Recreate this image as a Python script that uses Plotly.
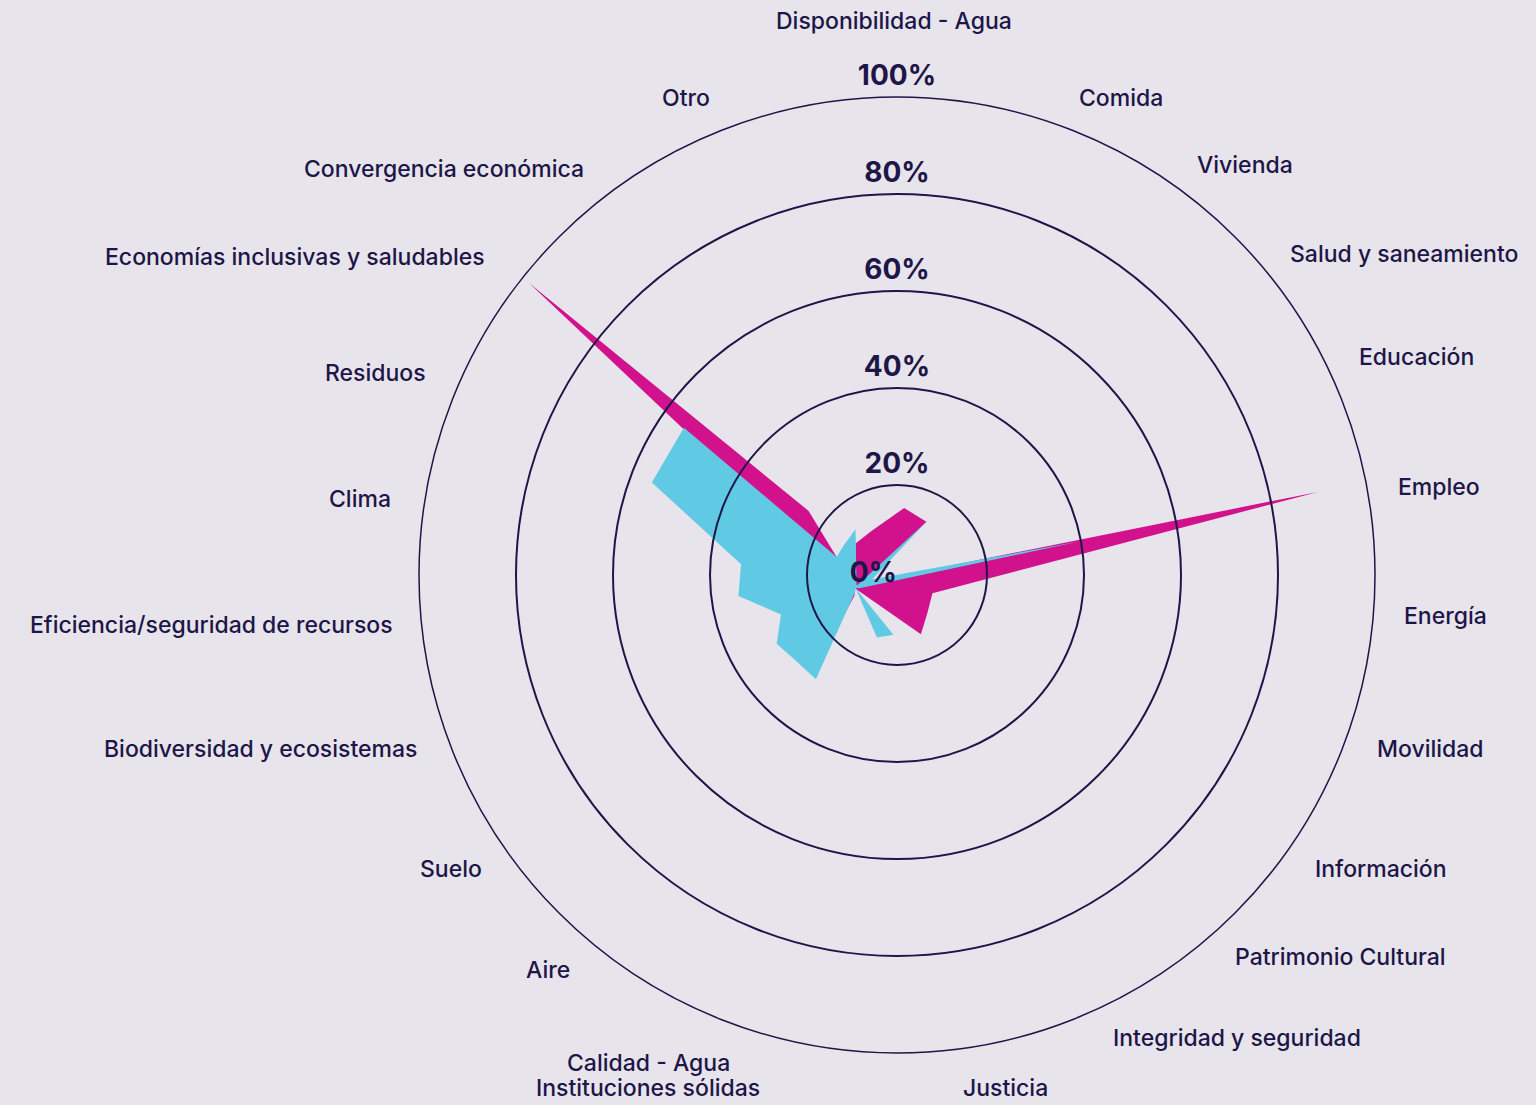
import plotly.graph_objects as go

# ---------------- data ----------------
categories = [
    "Disponibilidad - Agua", "Comida", "Vivienda", "Salud y saneamiento",
    "Educación", "Empleo", "Energía", "Movilidad", "Información",
    "Patrimonio Cultural", "Integridad y seguridad", "Justicia",
    "Instituciones sólidas", "Calidad - Agua", "Aire", "Suelo",
    "Biodiversidad y ecosistemas", "Eficiencia/seguridad de recursos",
    "Clima", "Residuos", "Economías inclusivas y saludables",
    "Convergencia económica", "Otro",
]

magenta_values = [9.2, 12.2, 19.3, 20.0, 2.5, 97.4, 15.9, 15.7, 16.5, 0.4,
                  0.0, 0.0, 1.6, 6.6, 0.0, 0.0, 0.0, 0.0, 0.0, 2.1,
                  92.1, 18.6, 0.0]

cyan_values = [12.1, 0.8, 0.6, 20.0, 3.9, 47.3, 0.8, 0.0, 0.0, 12.4,
               11.1, 0.0, 1.0, 20.5, 19.4, 19.9, 16.3, 24.2, 24.1, 47.3,
               48.4, 7.5, 9.1]

ring_values = [20, 40, 60, 80, 100]
ring_labels = ["20%", "40%", "60%", "80%", "100%"]
zero_label = "0%"

# ---------------- style / layout ----------------
W, H = 1536, 1105
BG = "#E7E5EB"
NAVY = "#1E1548"
MAGENTA = "#D2118C"
CYAN = "#60CAE4"
FONT = "Inter"
RING_R0 = 1.443  # inner start of the ring scale

# category label placement (pixel anchor points, anchor side)
label_pos = [
    (894, 21, "center"), (1077, 98, "left"), (1195, 165, "left"),
    (1288, 254, "left"), (1357, 357, "left"), (1396, 487, "left"),
    (1402, 616, "left"), (1375, 749, "left"), (1313, 869, "left"),
    (1233, 957, "left"), (1111, 1038, "left"), (1005, 1088, "center"),
    (648, 1088, "center"), (648, 1063, "center"), (572, 970, "right"),
    (484, 869, "right"), (419, 749, "right"), (395, 625, "right"),
    (393, 499, "right"), (428, 373, "right"), (487, 257, "right"),
    (586, 169, "right"), (712, 98, "right"),
]


def dom(cx, cy, r):
    return dict(x=[(cx - r) / W, (cx + r) / W],
                y=[(H - cy - r) / H, (H - cy + r) / H])


fig = go.Figure()

theta_closed = categories + categories[:1]
fig.add_trace(go.Scatterpolar(
    r=magenta_values + magenta_values[:1], theta=theta_closed,
    mode="lines", fill="toself", fillcolor=MAGENTA,
    line=dict(width=0, color=MAGENTA), subplot="polar",
    showlegend=False, hoverinfo="skip"))
fig.add_trace(go.Scatterpolar(
    r=cyan_values + cyan_values[:1], theta=theta_closed,
    mode="lines", fill="toself", fillcolor=CYAN,
    line=dict(width=0, color=CYAN), subplot="polar",
    showlegend=False, hoverinfo="skip"))

# ring labels on the ring polar
fig.add_trace(go.Scatterpolar(
    r=ring_values, theta=[0] * len(ring_values),
    mode="markers+text", text=ring_labels, textposition="top center",
    marker=dict(size=7, color="rgba(0,0,0,0)"),
    textfont=dict(family=FONT, size=28, color=NAVY, weight=700),
    subplot="polar2", showlegend=False, hoverinfo="skip"))
fig.add_trace(go.Scatterpolar(
    r=[RING_R0], theta=[0],
    mode="text", text=[zero_label], textposition="middle left",
    textfont=dict(family=FONT, size=28, color=NAVY, weight=700),
    subplot="polar2", showlegend=False, hoverinfo="skip"))

hidden_axis = dict(showgrid=False, showline=False, showticklabels=False, ticks="")

fig.update_layout(
    width=W, height=H,
    margin=dict(l=0, r=0, t=0, b=0),
    paper_bgcolor=BG, plot_bgcolor=BG,
    font=dict(family=FONT, color=NAVY),
    polar=dict(
        domain=dom(855.5, 588, 485),
        bgcolor="rgba(0,0,0,0)",
        radialaxis=dict(range=[0, 100], **hidden_axis),
        angularaxis=dict(type="category", categoryarray=categories,
                         rotation=90, direction="clockwise", **hidden_axis),
    ),
    polar2=dict(
        domain=dom(897, 575, 478),
        bgcolor="rgba(0,0,0,0)",
        radialaxis=dict(range=[RING_R0, 100], tickvals=ring_values[:-1],
                        showgrid=True, gridcolor=NAVY, gridwidth=1.5,
                        showline=False, showticklabels=False, ticks=""),
        angularaxis=dict(type="linear", rotation=90, direction="clockwise",
                         showgrid=False, showticklabels=False, ticks="",
                         showline=True, linecolor=NAVY, linewidth=1.5),
    ),
)

for name, (px, py, side) in zip(categories, label_pos):
    fig.add_annotation(
        x=px / W, y=1 - py / H, xref="paper", yref="paper",
        text=name, showarrow=False, xanchor=side, yanchor="middle",
        font=dict(family=FONT, size=23, color=NAVY, weight=500))

fig.write_html(
    "out.html",
    config={"displayModeBar": False},
    post_script="document.body.style.margin='0';document.body.style.overflow='hidden';"
                "document.body.style.background='" + BG + "';",
)
